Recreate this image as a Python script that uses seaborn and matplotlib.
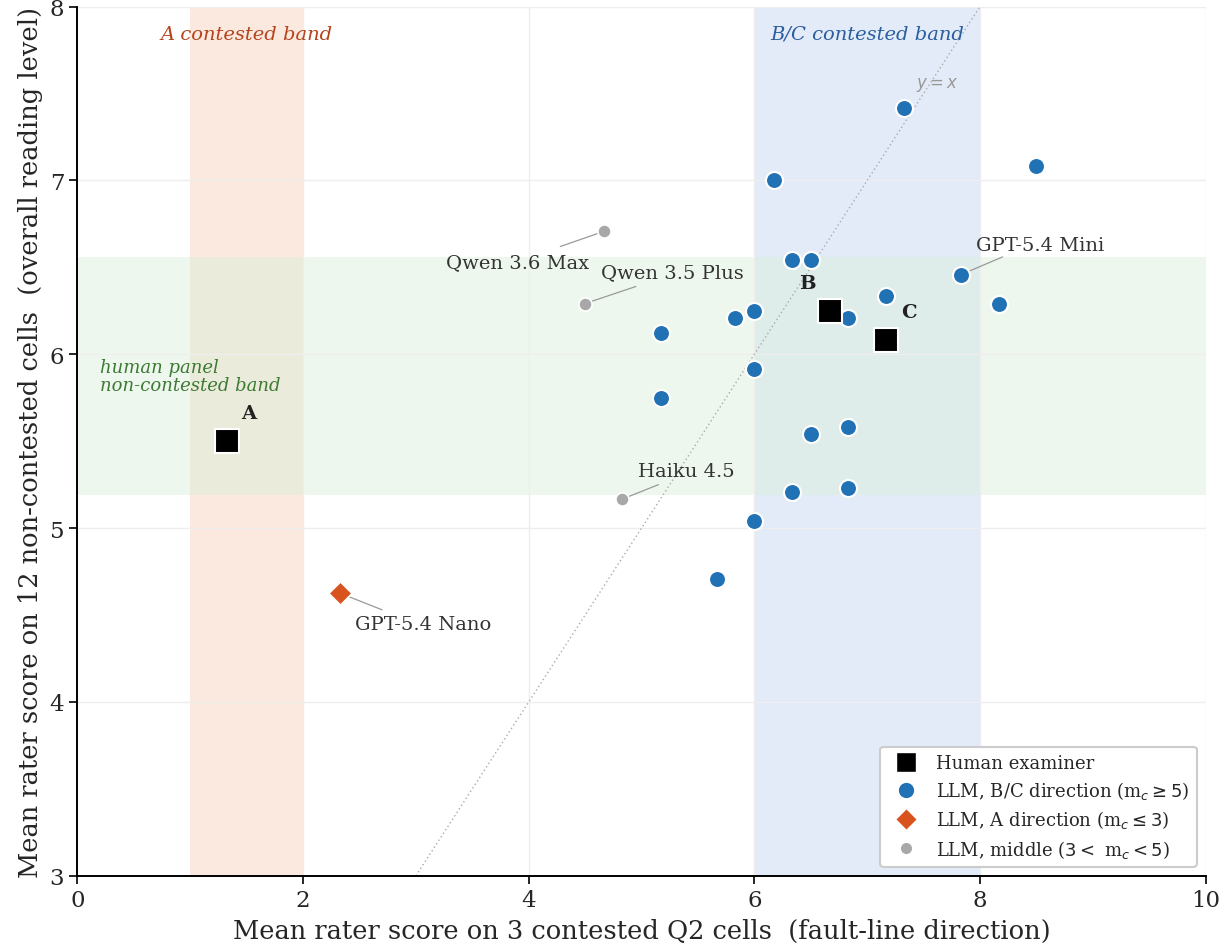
import numpy as np
import pandas as pd
import matplotlib
matplotlib.use("Agg")
import matplotlib.pyplot as plt
import seaborn as sns
from matplotlib.lines import Line2D


##################################################
# Data
##################################################

# LLM raters pointing in the B/C direction
bc_x = [7.33, 8.50, 6.17, 6.33, 6.50, 7.83, 7.17, 8.17, 6.00, 5.83,
        6.83, 5.17, 6.00, 5.17, 6.83, 6.50, 6.83, 6.33, 6.00, 5.67]
bc_y = [7.417, 7.083, 7.000, 6.542, 6.542, 6.458, 6.333, 6.292, 6.250, 6.208,
        6.208, 6.125, 5.917, 5.750, 5.583, 5.542, 5.229, 5.208, 5.042, 4.708]
bc_names = [""] * 20
bc_names[5] = "GPT-5.4 Mini"

# LLM raters pointing in the A direction
a_x = [2.33]
a_y = [4.625]
a_names = ["GPT-5.4 Nano"]

# LLM raters in the middle
mid_x = [4.67, 4.50, 4.83]
mid_y = [6.708, 6.292, 5.167]
mid_names = ["Qwen 3.6 Max", "Qwen 3.5 Plus", "Haiku 4.5"]

# Human examiners
hum_x = [1.33, 6.67, 7.17]
hum_y = [5.50, 6.25, 6.083]
hum_names = ["A", "B", "C"]

# Bands
a_band = (1.0, 2.0)
bc_band = (6.0, 8.0)
panel_band = (5.19, 6.56)

bc_df = pd.DataFrame({"x": bc_x, "y": bc_y, "name": bc_names})
a_df = pd.DataFrame({"x": a_x, "y": a_y, "name": a_names})
mid_df = pd.DataFrame({"x": mid_x, "y": mid_y, "name": mid_names})
hum_df = pd.DataFrame({"x": hum_x, "y": hum_y, "name": hum_names})

BLUE = "#2171b5"
ORANGE = "#d9531e"
GREY = "#a8a8a8"


##################################################
# Plot
##################################################

sns.set_theme(style="whitegrid")
plt.rcParams["font.family"] = ["DejaVu Serif"]

fig, ax = plt.subplots(figsize=(12.29, 9.53), dpi=100)
fig.subplots_adjust(left=0.063, right=0.981, top=0.992, bottom=0.080)

ax.grid(True, color="#eeeeee", linewidth=1)
ax.set_axisbelow(True)

# shaded bands
ax.axvspan(*a_band, color="#fbe6da", alpha=0.85, lw=0, zorder=0)
ax.axvspan(*bc_band, color="#dde6f7", alpha=0.8, lw=0, zorder=0)
ax.axhspan(*panel_band, color="#d9efd9", alpha=0.45, lw=0, zorder=0.5)

# y = x reference
ax.plot([3, 8], [3, 8], linestyle=(0, (1, 2)), color="#aaaaaa", lw=1, zorder=1)
ax.text(7.62, 7.555, "$y = x$", color="#999999", fontsize=12,
        family="DejaVu Sans", ha="center", va="center")

sns.scatterplot(data=bc_df, x="x", y="y", ax=ax, color=BLUE, s=150,
                edgecolor="white", linewidth=1.5, zorder=3)
sns.scatterplot(data=a_df, x="x", y="y", ax=ax, color=ORANGE, marker="D",
                s=140, edgecolor="white", linewidth=1.2, zorder=3)
sns.scatterplot(data=mid_df, x="x", y="y", ax=ax, color=GREY, s=90,
                edgecolor="white", linewidth=1.2, zorder=3)
sns.scatterplot(data=hum_df, x="x", y="y", ax=ax, color="black", marker="s",
                s=310, edgecolor="white", linewidth=1.5, zorder=4)

# human letters
letter_offsets = {"A": (15, 20), "B": (-16, 20), "C": (16, 20)}
for _, r in hum_df.iterrows():
    ax.annotate(r["name"], (r["x"], r["y"]), xytext=letter_offsets[r["name"]],
                textcoords="offset points", ha="center", va="center",
                fontsize=14, fontweight="bold", color="#222222", zorder=5)

# model labels
label_pos = {
    "Qwen 3.6 Max": (3.90, 6.53),
    "Qwen 3.5 Plus": (5.27, 6.47),
    "Haiku 4.5": (5.40, 5.33),
    "GPT-5.4 Nano": (3.06, 4.45),
    "GPT-5.4 Mini": (8.53, 6.63),
}
line_end = {
    "Qwen 3.6 Max": (4.28, 6.62),
    "Qwen 3.5 Plus": (4.95, 6.39),
    "Haiku 4.5": (5.15, 5.25),
    "GPT-5.4 Nano": (2.7, 4.53),
    "GPT-5.4 Mini": (8.2, 6.56),
}
for df in (bc_df, a_df, mid_df):
    for _, r in df.iterrows():
        if not r["name"]:
            continue
        name = r["name"]
        ax.plot([r["x"], line_end[name][0]], [r["y"], line_end[name][1]],
                color="#999999", lw=0.9, zorder=2)
        ax.text(*label_pos[name], name, fontsize=14, color="#333333",
                ha="center", va="center", zorder=5)

# band labels
ax.text(1.5, 7.845, "A contested band", color="#b5441c", style="italic",
        fontsize=14, ha="center", va="center")
ax.text(7.0, 7.845, "B/C contested band", color="#2a5e9e", style="italic",
        fontsize=14, ha="center", va="center")
ax.text(0.2, 5.875, "human panel\nnon-contested band", color="#3d7a33",
        style="italic", fontsize=13, ha="left", va="center", linespacing=1.05)

ax.set_xlim(0, 10)
ax.set_ylim(3, 8)
ax.set_xticks([0, 2, 4, 6, 8, 10])
ax.set_yticks([3, 4, 5, 6, 7, 8])
ax.tick_params(axis="both", labelsize=16.5, length=6, width=1.2, color="black",
               left=True, bottom=True)
ax.set_xlabel("Mean rater score on 3 contested Q2 cells  (fault-line direction)",
              fontsize=18.5, labelpad=5)
ax.set_ylabel("Mean rater score on 12 non-contested cells  (overall reading level)",
              fontsize=18.5, labelpad=5)

for side in ("top", "right"):
    ax.spines[side].set_visible(False)
for side in ("left", "bottom"):
    ax.spines[side].set_color("black")
    ax.spines[side].set_linewidth(1.4)

handles = [
    Line2D([], [], marker="s", color="black", linestyle="", markersize=14,
           markeredgecolor="white"),
    Line2D([], [], marker="o", color=BLUE, linestyle="", markersize=12,
           markeredgecolor="white"),
    Line2D([], [], marker="D", color=ORANGE, linestyle="", markersize=11,
           markeredgecolor="white"),
    Line2D([], [], marker="o", color=GREY, linestyle="", markersize=9,
           markeredgecolor="white"),
]
labels = [
    "Human examiner",
    r"LLM, B/C direction (m$_c \geq 5$)",
    r"LLM, A direction (m$_c \leq 3$)",
    r"LLM, middle ($3 <$ m$_c < 5$)",
]
leg = ax.legend(handles, labels, loc="lower right", fontsize=13,
                frameon=True, framealpha=1, edgecolor="#cccccc",
                borderpad=0.4, handletextpad=0.7, labelspacing=0.4,
                bbox_to_anchor=(1.0, 0.0))
leg.get_frame().set_linewidth(1.5)

fig.savefig("out.png", dpi=100)
